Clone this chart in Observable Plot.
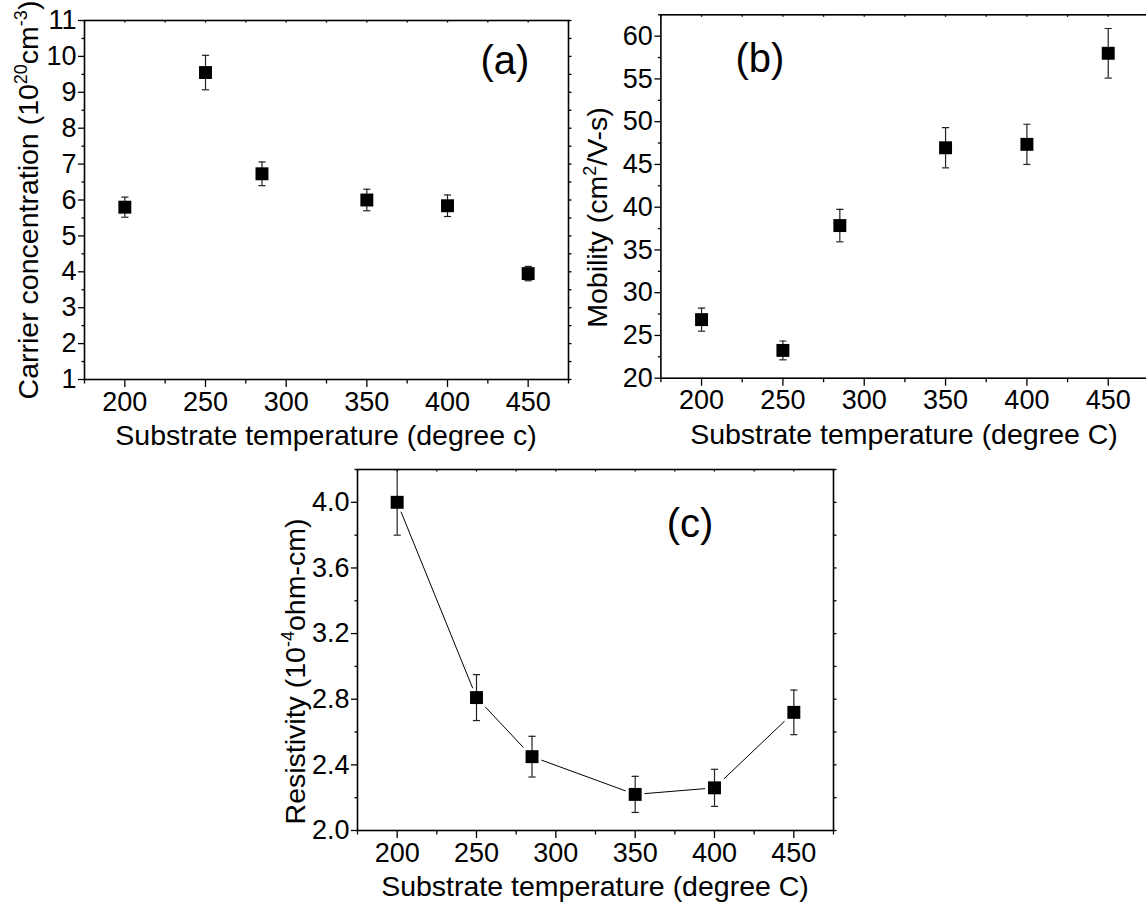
<!DOCTYPE html>
<html>
<head>
<meta charset="utf-8">
<script src="https://cdn.jsdelivr.net/npm/d3@7"></script>
<script src="https://cdn.jsdelivr.net/npm/@observablehq/plot@0.6"></script>
<style>
  html, body { margin: 0; padding: 0; background: #fff; overflow: hidden; }
  #chart { position: relative; width: 1146px; height: 903px; overflow: hidden; background: #fff; }
  #chart svg { position: absolute; overflow: visible; }
</style>
</head>
<body>
<div id="chart"></div>
<script>
// Substrate temperatures (°C) shared by all three panels
const temps = [200, 250, 285, 350, 400, 450];

// (a) carrier concentration, 10^20 cm^-3
const carrier = [5.8, 9.55, 6.73, 6.0, 5.84, 3.95];
const carrierErr = [0.28, 0.48, 0.33, 0.3, 0.3, 0.2];

// (b) Hall mobility, cm^2/V-s
const mobility = [26.85, 23.25, 37.85, 46.95, 47.35, 58.0];
const mobilityErr = [1.35, 1.1, 1.9, 2.35, 2.35, 2.9];

// (c) resistivity, 10^-4 ohm-cm
const resistivity = [4.0, 2.81, 2.45, 2.22, 2.26, 2.72];
const resistivityErr = [0.2, 0.14, 0.124, 0.11, 0.113, 0.136];

// Tick positions
const xMajor = [200, 250, 300, 350, 400, 450];
const xMinor = [175, 225, 275, 325, 375, 425, 475];
const yMajorA = [1, 2, 3, 4, 5, 6, 7, 8, 9, 10, 11];
const yMinorA = [1.5, 2.5, 3.5, 4.5, 5.5, 6.5, 7.5, 8.5, 9.5, 10.5];
const yMajorB = [20, 25, 30, 35, 40, 45, 50, 55, 60];
const yMinorB = [22.5, 27.5, 32.5, 37.5, 42.5, 47.5, 52.5, 57.5, 62.5];
const yMajorC = [2.0, 2.4, 2.8, 3.2, 3.6, 4.0];
const yMinorC = [2.2, 2.6, 3.0, 3.4, 3.8, 4.2];

const FONT = "'Liberation Sans', Arial, Helvetica, sans-serif";

// Path-based symbols: error-bar caps and short tick marks of a given length
// (the length comes from the dot radius, since Plot passes size = π r²)
const len = size => Math.sqrt(size / Math.PI);
const capSymbol = {draw(ctx, s) { const w = len(s); ctx.moveTo(-w, 0); ctx.lineTo(w, 0); }};
const tickLeft  = {draw(ctx, s) { ctx.moveTo(0, 0); ctx.lineTo(-len(s), 0); }};
const tickRight = {draw(ctx, s) { ctx.moveTo(0, 0); ctx.lineTo(len(s), 0); }};
const tickDown  = {draw(ctx, s) { ctx.moveTo(0, 0); ctx.lineTo(0, len(s)); }};

const chart = document.getElementById("chart");

function panel(opts) {
  const rows = temps.map((t, i) => ({t, v: opts.values[i], e: opts.errors[i]}));
  const ink = {stroke: "#000", fill: "none", strokeWidth: 1.3};
  const marks = [];
  if (opts.connect) {
    marks.push(Plot.line(rows, {x: "t", y: "v", stroke: "#000", strokeWidth: 1}));
    // white halo keeps the connecting line short of each symbol
    marks.push(Plot.dot(rows, {x: "t", y: "v", symbol: "square", r: 10.6, fill: "#fff", stroke: "none"}));
  }
  marks.push(
    Plot.ruleX(rows, {x: "t", y1: d => d.v - d.e, y2: d => d.v + d.e, stroke: "#222", strokeWidth: 1.2, clip: true}),
    Plot.dot(rows, {x: "t", y: d => d.v + d.e, symbol: capSymbol, r: 3.6, stroke: "#222", strokeWidth: 1.2, fill: "none", clip: true}),
    Plot.dot(rows, {x: "t", y: d => d.v - d.e, symbol: capSymbol, r: 3.6, stroke: "#222", strokeWidth: 1.2, fill: "none"}),
    Plot.dot(rows, {x: "t", y: "v", symbol: "square", r: 7.3, fill: "#000", stroke: "none"}),
    Plot.frame({stroke: "#000", strokeWidth: 1.6}),
    // labelled major ticks
    Plot.axisY({ticks: opts.yMajor, tickSize: 6, tickPadding: 2, tickFormat: opts.yFormat, label: null, strokeWidth: 1.3}),
    Plot.axisX({ticks: xMajor, tickSize: 8, tickPadding: 4, tickFormat: d => String(d), label: null, strokeWidth: 1.3}),
    // minor ticks on the left and bottom, mirrored ticks on the right and top
    Plot.dot(opts.yMinor, {y: d => d, frameAnchor: "left", symbol: tickLeft, r: 3, ...ink}),
    Plot.dot([...opts.yMajor, ...opts.yMinor], {y: d => d, frameAnchor: "right", symbol: tickRight, r: 3, ...ink}),
    Plot.dot(xMinor, {x: d => d, frameAnchor: "bottom", symbol: tickDown, r: 4, ...ink}),
    Plot.dot([...xMajor, ...xMinor], {x: d => d, frameAnchor: "top", symbol: tickDown, r: 2, ...ink})
  );

  const svg = Plot.plot({
    width: opts.width,
    height: opts.height,
    marginLeft: opts.ml,
    marginRight: opts.mr,
    marginTop: opts.mt,
    marginBottom: opts.mb,
    x: {domain: [175, 475]},
    y: {domain: opts.yDomain},
    style: {background: "transparent", color: "#000", fontFamily: FONT, fontSize: "27px", overflow: "visible"},
    marks
  });
  svg.style.left = opts.left + "px";
  svg.style.top = opts.top + "px";

  const g = d3.select(svg).append("g").attr("font-family", FONT).attr("fill", "#000");

  // y-axis title (rotated), with raised superscript parts
  const yt = g.append("text")
    .attr("transform", `translate(${opts.yTitle.x},${opts.yTitle.y}) rotate(-90)`)
    .attr("text-anchor", "middle")
    .attr("font-size", 28.5);
  opts.yTitle.parts.forEach(([txt, sup]) => {
    const span = yt.append("tspan").text(txt);
    if (sup) span.attr("font-size", 18).attr("baseline-shift", 11);
  });

  // x-axis title
  g.append("text")
    .attr("x", opts.xTitle.x).attr("y", opts.xTitle.y)
    .attr("text-anchor", "middle")
    .attr("font-size", 28.5)
    .text(opts.xTitle.text);

  // panel tag
  g.append("text")
    .attr("x", opts.tag.x).attr("y", opts.tag.y)
    .attr("text-anchor", "middle")
    .attr("font-size", 40)
    .text(opts.tag.text);

  chart.appendChild(svg);
}

panel({
  values: carrier, errors: carrierErr,
  yDomain: [1, 11], yMajor: yMajorA, yMinor: yMinorA, yFormat: d => String(d),
  left: 0, top: 0, width: 580, height: 460, ml: 84, mr: 12, mt: 20, mb: 81,
  yTitle: {x: 38, y: 200, parts: [["Carrier concentration (10"], ["20", true], ["cm"], ["-3", true], [")"]]},
  xTitle: {x: 326, y: 445, text: "Substrate temperature (degree c)"},
  tag: {x: 505, y: 74, text: "(a)"}
});

panel({
  values: mobility, errors: mobilityErr,
  yDomain: [20, 62.5], yMajor: yMajorB, yMinor: yMinorB, yFormat: d => String(d),
  left: 570, top: 0, width: 590, height: 460, ml: 90.4, mr: 11.6, mt: 14.3, mb: 82.3,
  yTitle: {x: 37, y: 217.5, parts: [["Mobility (cm"], ["2", true], ["/V-s)"]]},
  xTitle: {x: 334, y: 444, text: "Substrate temperature (degree C)"},
  tag: {x: 190, y: 72, text: "(b)"}
});

panel({
  values: resistivity, errors: resistivityErr, connect: true,
  yDomain: [2.0, 4.2], yMajor: yMajorC, yMinor: yMinorC, yFormat: d => d.toFixed(1),
  left: 260, top: 440, width: 590, height: 463, ml: 97, mr: 17, mt: 29, mb: 73,
  yTitle: {x: 45, y: 231.5, parts: [["Resistivity (10"], ["-4", true], ["ohm-cm)"]]},
  xTitle: {x: 335, y: 455.7, text: "Substrate temperature (degree C)"},
  tag: {x: 430, y: 96.7, text: "(c)"}
});
</script>
</body>
</html>
